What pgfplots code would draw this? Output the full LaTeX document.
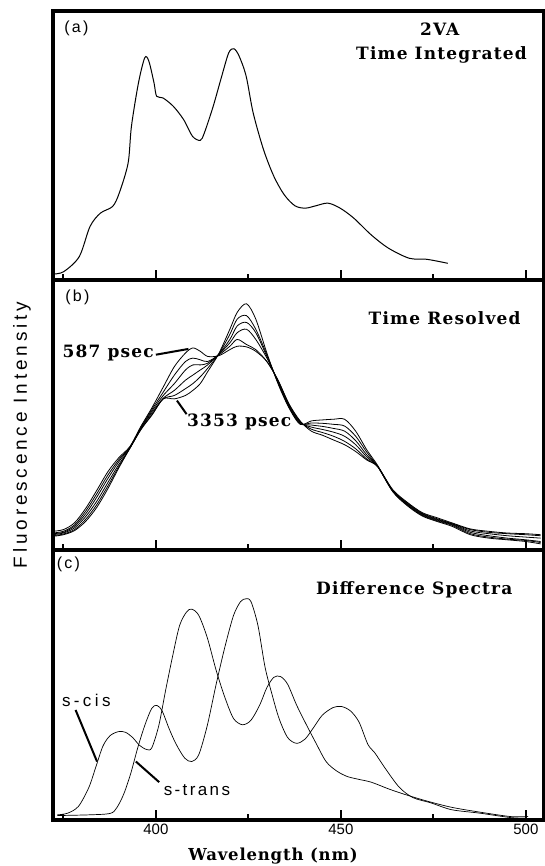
\documentclass[border=0pt]{standalone}
\usepackage{fontspec}
\usepackage{pgfplots}
\usepackage{pgfplotstable}
\pgfplotsset{compat=1.18}
\setmainfont{DejaVu Serif}
\newfontfamily\lab[LetterSpace=7]{DejaVu Serif}
\newfontfamily\labx[LetterSpace=5]{DejaVu Serif}
\newfontfamily\sans{Liberation Sans}
\newfontfamily\sanssp[LetterSpace=14]{Liberation Sans}
\newfontfamily\sanswide[LetterSpace=20]{Liberation Sans}

% time resolved spectra, 587 psec (c1) ... 3353 psec (c6)
\pgfplotstableread{
x     c1  c2  c3  c4  c5  c6
372   55  50  48  45  42  40
375   60  55  52  50  47  45
378   80  74  70  65  60  57
381   122 114 106 98  90  84
384   175 165 155 143 133 125
387   230 220 210 198 188 180
390   272 266 260 252 246 242
393   305 303 302 300 300 300
396   365 362 360 358 356 355
399   420 415 410 405 400 398
402   480 465 455 447 445 445
405   540 515 490 470 455 445
408   580 555 530 500 475 455
410   595 565 545 515 490 470
412   585 560 545 530 510 490
414   570 555 550 545 535 525
417   572 574 576 576 577 578
420   590 600 610 620 635 650
422   600 620 640 660 680 700
424.5 598 605 650 670 690 725
427   585 590 620 640 650 680
430   555 555 565 570 575 580
433   500 500 498 495 492 490
436   430 428 425 422 420 418
439   380 378 376 374 372 370
442   350 356 362 368 374 380
445   338 346 355 364 373 383
448   324 335 347 358 370 385
451   310 320 335 350 365 385
454   290 298 310 322 335 350
457   265 268 274 280 288 295
460   245 245 245 245 245 248
464   178 176 175 174 173 172
468   140 138 136 134 132 130
472   110 108 106 104 102 100
476   95  92  90  88  86  84
480   80  78  77  75  73  70
485   62  60  56  52  48  45
490   55  52  48  42  38  35
495   50  48  42  35  32  30
500   48  45  38  30  28  25
504   45  42  35  25  22  18
}\tabB

\pgfplotsset{panel/.style={
  width=491pt, height=270pt, scale only axis,
  xmin=372.2, xmax=504.9, ymin=0,
  axis line style={line width=3.5pt},
  xtick={400,450,500}, minor xtick={375,425,475},
  xtick pos=left, tick align=inside,
  major tick length=10pt, minor tick length=6pt,
  major tick style={line width=2pt, black},
  minor tick style={line width=2pt, black},
  ytick=\empty, clip=false,
  xticklabel style={font=\sans\fontsize{15}{15}\selectfont},
  /pgf/number format/assume math mode=true,
}}

\begin{document}
\begin{tikzpicture}

% (a) time integrated
\begin{axis}[panel, at={(53pt,-280pt)}, anchor=south west, height=269pt,
  ymax=805, xticklabel=\empty]
\addplot[black, line width=1pt, smooth] coordinates {
(372.3,18) (375.1,25) (379.3,70) (382.2,160) (385.0,200) (388.3,220)
(390.1,260) (392.5,350) (393.4,460) (395.3,590) (397.0,665) (398.1,655)
(399.5,590) (400.2,550) (401.9,545) (404.7,520) (407.5,480) (409.9,430)
(412.0,418) (413.1,440) (415.5,520) (417.8,610) (419.7,680) (421.1,692)
(422.5,670) (424.4,610) (426.3,500) (429.1,390) (431.9,310) (434.7,255)
(437.6,222) (440.4,215) (443.2,222) (446.5,230) (449.8,215) (453.5,185)
(458.2,135) (462.9,95) (468.5,65) (473.2,62) (478.9,50)
};
\node[anchor=west, font=\sanssp\fontsize{16}{16}\selectfont] at (axis cs:374.3,752) {(a)};
\node[font=\lab\bfseries\fontsize{17}{17}\selectfont] at (axis cs:476.7,750) {2VA};
\node[font=\lab\bfseries\fontsize{17}{17}\selectfont] at (axis cs:477.2,673) {Time Integrated};
\end{axis}

% (b) time resolved
\begin{axis}[panel, at={(53pt,-550pt)}, anchor=south west,
  ymax=795, xticklabel=\empty]
\foreach \c in {c1,c2,c3,c4,c5,c6}{
  \addplot[black, line width=0.8pt, smooth] table[x=x, y=\c] {\tabB};
}
\node[anchor=west, font=\sanssp\fontsize{16}{16}\selectfont] at (axis cs:374.6,743) {(b)};
\node[anchor=east, font=\lab\bfseries\fontsize{17}{17}\selectfont] at (axis cs:499.5,682) {Time Resolved};
\node[anchor=east, font=\lab\bfseries\fontsize{17}{17}\selectfont] at (axis cs:400.4,580) {587 psec};
\draw[line width=2pt] (axis cs:400,575) -- (axis cs:408.8,592);
\node[anchor=west, font=\lab\bfseries\fontsize{17}{17}\selectfont] at (axis cs:407.5,378) {3353 psec};
\draw[line width=2pt] (axis cs:405.7,440) -- (axis cs:408.3,400);
\end{axis}

% (c) difference spectra
\begin{axis}[panel, at={(53pt,-820pt)}, anchor=south west,
  ymax=785]
\addplot[black, line width=0.7pt, smooth] coordinates { % s-cis
(373.4,15) (376.2,20) (379.1,40) (381.9,95) (383.8,155) (385.7,215)
(387.6,245) (389.9,257) (391.8,255) (393.7,240) (395.6,217) (397.5,205)
(398.9,210) (400.8,275) (402.6,375) (404.5,475) (406.4,565) (408.3,605)
(409.7,613) (411.6,595) (413.9,530) (416.3,435) (418.7,355) (421.0,295)
(423.4,277) (425.7,290) (428.1,335) (430.0,385) (431.9,415) (433.7,417)
(435.6,395) (438.0,335) (440.3,285) (443.2,225) (446.0,170) (448.8,143)
(451.6,127) (454.5,119) (458.2,110) (463.0,90) (467.7,73) (473.3,55)
(479.9,37) (487.5,23) (495.9,10) (500.6,10)
};
\addplot[black, line width=0.7pt, smooth] coordinates { % s-trans
(373.4,13) (381.9,15) (387.6,19) (389.4,35) (391.3,75) (393.2,135)
(395.1,210) (397.0,275) (398.9,325) (400.3,333) (401.7,317) (403.6,265)
(405.5,220) (407.8,180) (409.7,170) (411.6,190) (413.9,275) (416.3,395)
(418.7,505) (421.0,595) (422.9,635) (424.3,643) (425.7,635) (427.6,565)
(429.5,445) (431.4,365) (433.3,295) (435.6,240) (438.0,223) (440.3,235)
(442.7,270) (445.0,305) (447.9,327) (450.2,330) (452.6,317) (454.9,285)
(457.3,220) (459.2,195) (462.0,150) (465.8,95) (469.5,65) (474.3,50)
(479.9,30) (487.5,20) (495.9,7) (500.1,5)
};
\node[anchor=west, font=\sanssp\fontsize{16}{16}\selectfont] at (axis cs:372.3,743) {(c)};
\node[anchor=east, font=\lab\bfseries\fontsize{17}{17}\selectfont] at (axis cs:497.3,670) {Difference Spectra};
\node[font=\sanswide\fontsize{17}{17}\selectfont] at (axis cs:381.2,347) {s-cis};
\draw[line width=2pt] (axis cs:378.3,320) -- (axis cs:384.1,170);
\node[font=\sanssp\fontsize{17}{17}\selectfont] at (axis cs:411.1,88) {s-trans};
\draw[line width=2pt] (axis cs:394.6,170) -- (axis cs:400.9,110);
\end{axis}

\node[rotate=90, font=\sanswide\fontsize{19}{19}\selectfont] at (22pt,-435pt) {Fluorescence Intensity};
\node[font=\labx\bfseries\fontsize{16.5}{16.5}\selectfont] at (273pt,-856pt) {Wavelength (nm)};

\pgfresetboundingbox
\path[use as bounding box] (0pt,0pt) rectangle (545pt,-866pt);
\end{tikzpicture}
\end{document}
